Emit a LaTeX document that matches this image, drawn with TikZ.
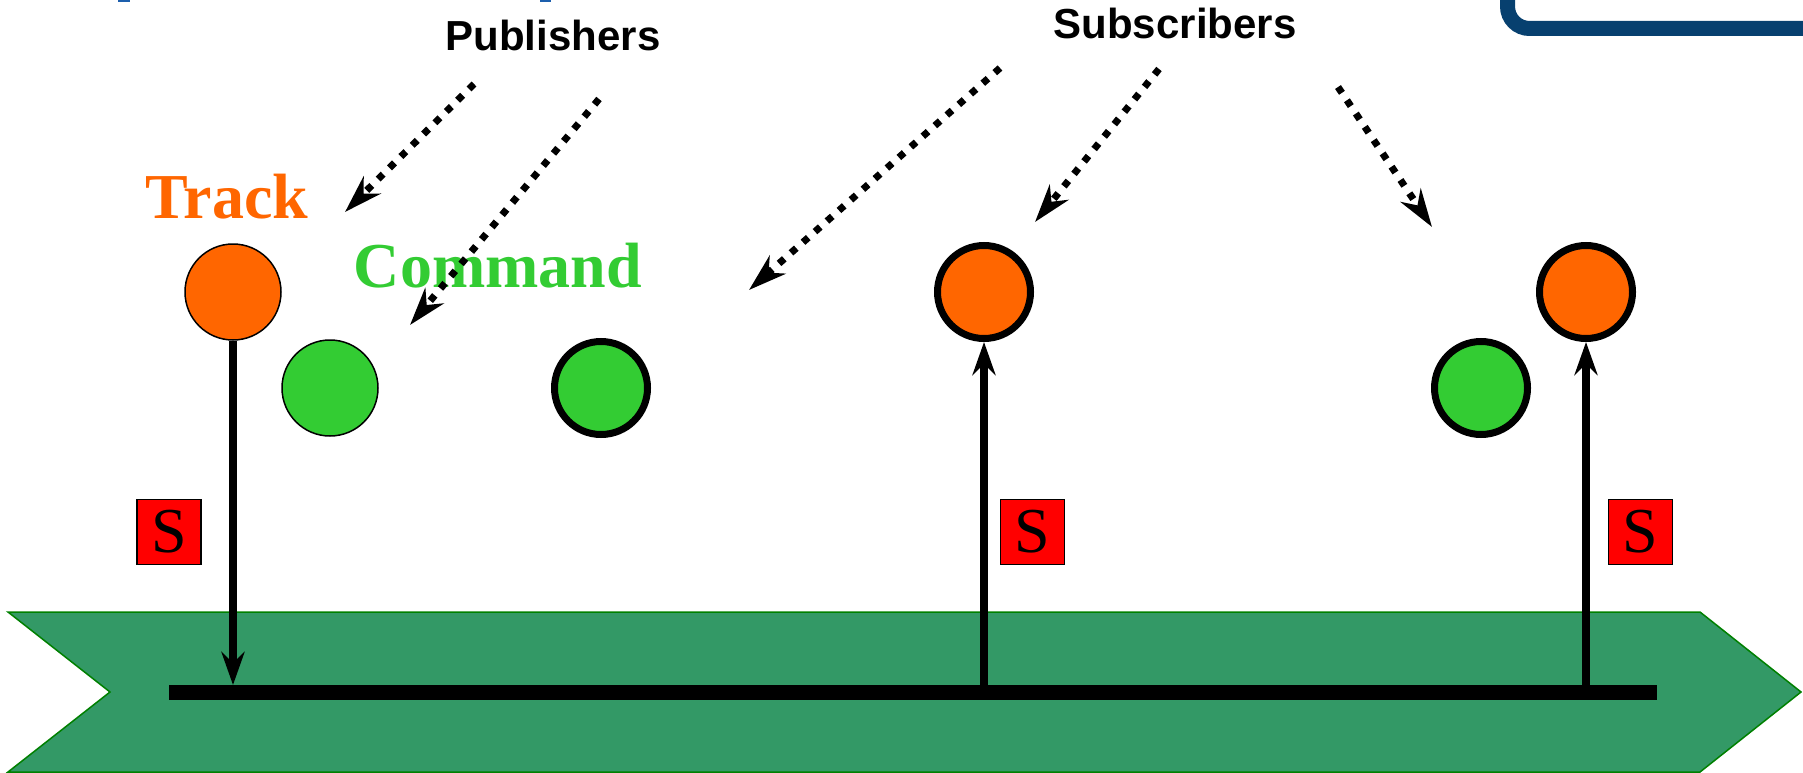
\documentclass[tikz,border=0pt]{standalone}
\usepackage{fontspec}
\setmainfont{Liberation Serif}
\setsansfont{Liberation Sans}
\usetikzlibrary{arrows.meta}

\definecolor{trackorange}{HTML}{FF6600}
\definecolor{cmdgreen}{HTML}{33CC33}
\definecolor{bandfill}{HTML}{339966}
\definecolor{bandedge}{HTML}{008000}
\definecolor{frameblue}{HTML}{07406F}
\definecolor{titleblue}{HTML}{1D5FAD}

\tikzset{
  topic/.style={circle, inner sep=0pt, draw=black},
  thinring/.style={topic, minimum size=96pt, line width=1.5pt},
  thickring/.style={topic, minimum size=93pt, line width=7pt},
  trackdot/.style={fill=trackorange},
  cmddot/.style={fill=cmdgreen},
  sbox/.style={draw=black, fill=red, line width=1.5pt, minimum width=64pt,
    minimum height=65pt, inner sep=0pt,
    font=\fontsize{64}{64}\selectfont},
  roletext/.style={anchor=base, font=\sffamily\bfseries\fontsize{42}{50}\selectfont},
  kindtext/.style={anchor=base, font=\bfseries\fontsize{64}{70}\selectfont},
  flow/.style={line width=8pt, -{Stealth[length=33pt,width=23pt,inset=11pt]}},
  pointer/.style={line width=7pt, dash pattern=on 7pt off 9pt,
    -{Stealth[length=38pt,width=24pt,inset=12pt]}},
}

\begin{document}
\begin{tikzpicture}[x=1pt,y=-1pt]
\useasboundingbox (0,0) rectangle (1803,773);
\clip (0,0) rectangle (1803,773);

% slivers of the heading above
\fill[titleblue] (118,0) rectangle (130,2.5);
\fill[titleblue] (540,0) rectangle (551,2.5);

% corner of the frame at the top right
\draw[frameblue, line width=15pt, rounded corners=22pt] (1507.5,-80) rectangle (1950,28.5);

% the data bus band
\draw[fill=bandfill, draw=bandedge, line width=1.5pt]
  (8,612) -- (1700,612) -- (1801,692) -- (1700,772) -- (8,772) -- (110,692) -- cycle;

% bus line
\coordinate (busL) at (169,692);
\coordinate (busR) at (1657,692);
\draw[line width=15pt] (busL) -- (busR);

% topics
\node[thinring, trackdot] (pubtrack) at (233,292) {};
\node[thinring, cmddot] (pubcmd) at (330,388) {};
\node[thickring, cmddot] (subcmdA) at (601,388) {};
\node[thickring, trackdot] (subtrackA) at (984,292) {};
\node[thickring, cmddot] (subcmdB) at (1481,388) {};
\node[thickring, trackdot] (subtrackB) at (1586,292) {};

% labels
\node[roletext] (pubs) at (553,50.6) {Publishers};
\node[roletext] (subs) at (1175,39) {Subscribers};
\node[kindtext, text=trackorange] (tracklbl) at (227,218) {Track};
\node[kindtext, text=cmdgreen] (cmdlbl) at (498,287.5) {Command};

% security markers
\node[sbox] (s1) at (169,532) {S};
\node[sbox] (s2) at (1032.5,532) {S};
\node[sbox] (s3) at (1640.5,532) {S};

% flows between topics and the bus
\coordinate (tap1) at (233,685);
\coordinate (tap2) at (984,692);
\coordinate (tap3) at (1586,692);
\draw[flow] (pubtrack.south) -- (tap1);
\draw[flow] (tap2) -- (subtrackA.south);
\draw[flow] (tap3) -- (subtrackB.south);

% pointers from the role labels
\coordinate (p1s) at (474,84);   \coordinate (p1e) at (345,212);
\coordinate (p2s) at (599,99);   \coordinate (p2e) at (410,325);
\coordinate (q1s) at (1000,68);  \coordinate (q1e) at (749,290);
\coordinate (q2s) at (1159,69);  \coordinate (q2e) at (1035,222);
\coordinate (q3s) at (1338,87);  \coordinate (q3e) at (1432,227);
\draw[pointer] (p1s) -- (p1e);
\draw[pointer] (p2s) -- (p2e);
\draw[pointer] (q1s) -- (q1e);
\draw[pointer] (q2s) -- (q2e);
\draw[pointer] (q3s) -- (q3e);
\end{tikzpicture}
\end{document}
